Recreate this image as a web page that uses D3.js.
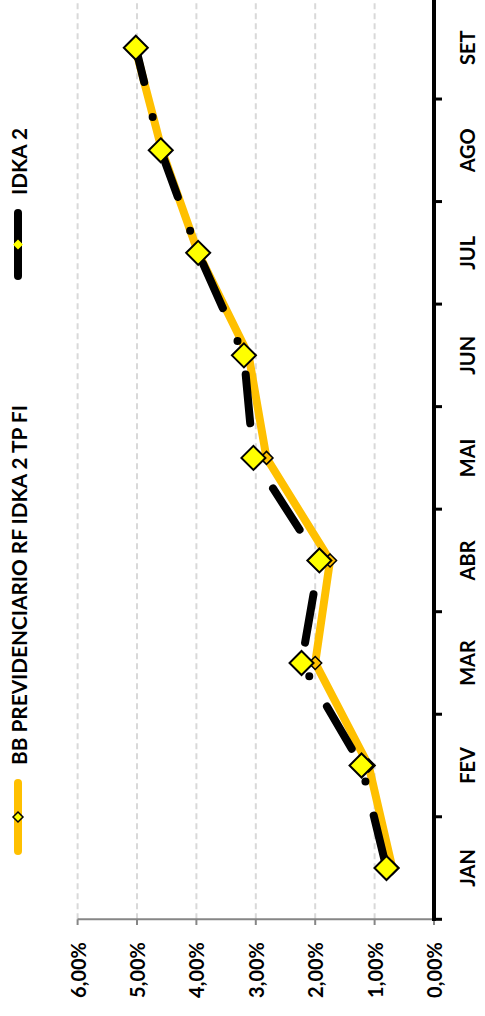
<!DOCTYPE html>
<html><head><meta charset="utf-8">
<script src="https://cdn.jsdelivr.net/npm/d3@7"></script>
<style>
html,body{margin:0;padding:0;background:#fff;}
svg{display:block;}
text{font-family:Lato,"Liberation Sans",sans-serif;font-weight:bold;fill:#000;}
</style>
</head><body>
<svg id="c" width="485" height="1016"></svg>
<script>
const categories = ["JAN","FEV","MAR","ABR","MAI","JUN","JUL","AGO","SET"];
const seriesNames = ["BB PREVIDENCIARIO RF IDKA 2 TP FI", "IDKA 2"];
const bbValues   = [0.70, 1.10, 2.00, 1.75, 2.82, 3.12, 3.97, 4.58, 5.03];
const idkaValues = [0.80, 1.22, 2.23, 1.93, 3.04, 3.20, 3.97, 4.60, 5.02];
const valueTicks = [0, 1, 2, 3, 4, 5, 6];
const valueTickLabels = ["0,00%","1,00%","2,00%","3,00%","4,00%","5,00%","6,00%"];

const svg = d3.select("#c");
const x = d3.scaleLinear().domain([0, 6]).range([434, 77.6]);
const y = d3.scaleBand().domain(categories).range([919.3, -3.5]);
const yc = c => y(c) + y.bandwidth() / 2;
const diamond = r => `M0,${-r}L${r},0L0,${r}L${-r},0Z`;

// gridlines
svg.append("g").selectAll("line").data(valueTicks.filter(v => v > 0)).join("line")
  .attr("x1", d => x(d)).attr("x2", d => x(d))
  .attr("y1", 919.3).attr("y2", 0)
  .attr("stroke", "#d9d9d9").attr("stroke-width", 2).attr("stroke-dasharray", "6,4");

// value axis (bottom)
svg.append("line").attr("x1", x(6)).attr("x2", x(0)).attr("y1", 919.3).attr("y2", 919.3)
  .attr("stroke", "#868686").attr("stroke-width", 2);
svg.append("g").selectAll("line").data(valueTicks).join("line")
  .attr("x1", d => x(d)).attr("x2", d => x(d)).attr("y1", 919.3).attr("y2", 925)
  .attr("stroke", "#868686").attr("stroke-width", 2);
svg.append("g").selectAll("text").data(valueTicks).join("text")
  .attr("transform", d => `translate(${x(d)},942) rotate(-90)`)
  .attr("text-anchor", "end").attr("dominant-baseline", "central")
  .attr("font-size", 20)
  .text((d, i) => valueTickLabels[i]);

// series lines
const line = d3.line().x(d => x(d.v)).y(d => yc(d.c));
const bbData = categories.map((c, i) => ({c, v: bbValues[i]}));
const idkaData = categories.map((c, i) => ({c, v: idkaValues[i]}));

svg.append("path").datum(bbData).attr("d", line)
  .attr("fill", "none").attr("stroke", "#FFC000").attr("stroke-width", 8)
  .attr("stroke-linejoin", "round").attr("stroke-linecap", "round");
svg.append("g").selectAll("path").data(bbData).join("path")
  .attr("transform", d => `translate(${x(d.v)},${yc(d.c)})`)
  .attr("d", diamond(6.5)).attr("fill", "#FFC000").attr("stroke", "#000").attr("stroke-width", 1.5);

svg.append("path").datum(idkaData).attr("d", line)
  .attr("fill", "none").attr("stroke", "#000").attr("stroke-width", 8)
  .attr("stroke-linejoin", "round").attr("stroke-linecap", "round")
  .attr("stroke-dasharray", "49,35,0,36").attr("stroke-dashoffset", 115);
svg.append("g").selectAll("path").data(idkaData).join("path")
  .attr("transform", d => `translate(${x(d.v)},${yc(d.c)})`)
  .attr("d", diamond(12)).attr("fill", "#FFFF00").attr("stroke", "#000").attr("stroke-width", 2);

// category axis (right)
svg.append("line").attr("x1", 434).attr("x2", 434).attr("y1", 0).attr("y2", 921)
  .attr("stroke", "#000").attr("stroke-width", 4);
const bounds = categories.map(c => y(c) + y.bandwidth()).concat([y(categories[8])]);
svg.append("g").selectAll("line").data(bounds.filter(b => b > 0)).join("line")
  .attr("x1", 434).attr("x2", 442).attr("y1", d => d).attr("y2", d => d)
  .attr("stroke", "#000").attr("stroke-width", 3);
svg.append("g").selectAll("text").data(categories).join("text")
  .attr("transform", d => `translate(467,${yc(d)}) rotate(-90)`)
  .attr("text-anchor", "middle").attr("dominant-baseline", "central")
  .attr("font-size", 20)
  .text(d => d);

// legend
const legend = [
  {name: seriesNames[0], yStart: 851, len: 68, color: "#FFC000", mfill: "#FFFF00", mstroke: "#000"},
  {name: seriesNames[1], yStart: 276, len: 63, color: "#000", mfill: "#FFFF00", mstroke: "none"}
];
const lg = svg.append("g").selectAll("g").data(legend).join("g")
  .attr("transform", d => `translate(18,${d.yStart}) rotate(-90)`);
lg.append("line").attr("x1", 0).attr("x2", d => d.len).attr("y1", 0).attr("y2", 0)
  .attr("stroke", d => d.color).attr("stroke-width", 8).attr("stroke-linecap", "round");
lg.append("path").attr("transform", d => `translate(${d.len / 2},0)`).attr("d", diamond(5))
  .attr("fill", d => d.mfill).attr("stroke", d => d.mstroke).attr("stroke-width", 1.5);
lg.append("text").attr("x", d => d.len + 18).attr("y", 0).attr("dominant-baseline", "central")
  .attr("font-size", 20.8).text(d => d.name);
</script>
</body></html>
